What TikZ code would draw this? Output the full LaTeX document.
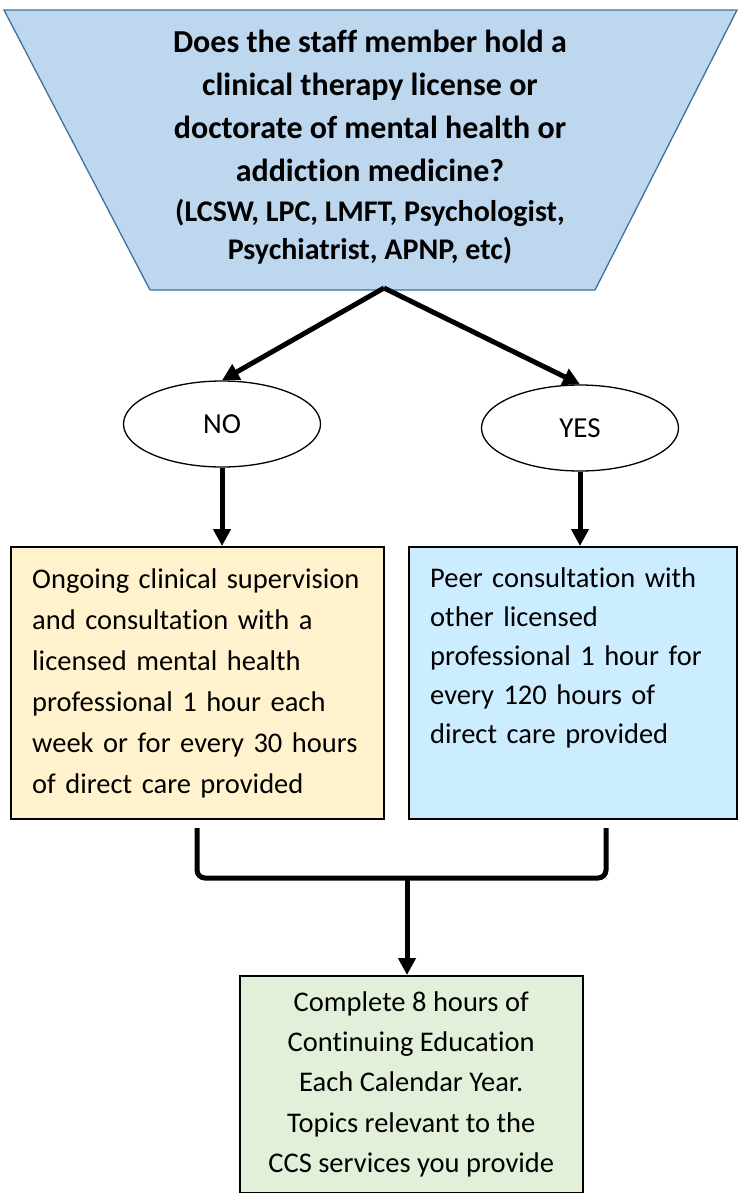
\documentclass[tikz,border=0pt]{standalone}
\usepackage{fontspec}
\setmainfont{Carlito}[Ligatures=NoCommon]
\usetikzlibrary{arrows.meta,shapes.geometric}
\definecolor{qfill}{HTML}{BDD7EE}
\definecolor{qline}{HTML}{41719C}
\definecolor{nofill}{HTML}{FFF2CC}
\definecolor{yesfill}{HTML}{CCECFF}
\definecolor{cefill}{HTML}{E2F0D9}
\begin{document}
\begin{tikzpicture}[x=1bp,y=-1bp,
  bigarrow/.style={line width=5bp,-{Triangle[length=17bp,width=17bp]}},
  answer/.style={ellipse,draw,line width=1.3bp,fill=white,minimum width=197bp,minimum height=86bp,inner sep=0pt,font=\fontsize{29bp}{32bp}\selectfont},
  infobox/.style={draw,line width=1.5bp,inner sep=0pt},
  body/.style={font=\fontsize{28.5bp}{41bp}\selectfont}
]
\useasboundingbox (0,0) rectangle (742,1193);
% question trapezoid
\filldraw[fill=qfill,draw=qline,line width=1.3bp] (4,10) -- (737,10) -- (595,290) -- (150,290) -- cycle;
\coordinate (apex) at (384,288);
\node[anchor=north,align=center,font=\bfseries\fontsize{32bp}{42.8bp}\selectfont] (q) at (370,27)
 {Does the staff member hold a\\
  clinical therapy license or\\
  doctorate of mental health or\\
  addiction medicine?\\[-3bp]
  {\fontsize{30bp}{38bp}\selectfont (LCSW, LPC, LMFT, Psychologist,}\\[-4bp]
  {\fontsize{30bp}{38bp}\selectfont Psychiatrist, APNP, etc)}};
% answers
\node[answer] (no) at (222,424) {NO};
\node[answer] (yes) at (580,428) {YES};
\draw[bigarrow] (apex) -- (no.north);
\draw[bigarrow] (apex) -- (yes.north);
% boxes
\node[infobox,fill=nofill,anchor=north west,minimum width=373bp,minimum height=272bp] (nobox) at (10,546) {};
\node[anchor=north west,text width=350bp,align=left,body,inner sep=0pt] (notext) at (32,569)
 {Ongoing clinical supervision\\
  and consultation with a\\
  licensed mental health\\
  professional 1 hour each\\
  week or for every 30 hours\\
  of direct care provided};
\node[infobox,fill=yesfill,anchor=north west,minimum width=328bp,minimum height=272bp] (yesbox) at (408,546) {};
\node[anchor=north west,text width=300bp,align=left,inner sep=0pt,font=\fontsize{28.5bp}{38.8bp}\selectfont] (yestext) at (430,568)
 {Peer consultation with\\
  other licensed\\
  professional 1 hour for\\
  every 120 hours of\\
  direct care provided};
\draw[bigarrow] (no.south) -- (no.south |- nobox.north);
\draw[bigarrow] (yes.south) -- (yes.south |- yesbox.north);
% bracket
\coordinate (bl) at (197,828);
\coordinate (br) at (606,828);
\coordinate (bm) at (407,878);
\draw[line width=5bp,rounded corners=8bp] (bl) |- (bm) -| (br);
% final box
\node[infobox,fill=cefill,anchor=north west,minimum width=343bp,minimum height=217bp,align=center,font=\fontsize{28.5bp}{40.3bp}\selectfont] (ce) at (239,975)
 {Complete 8 hours of\\
  Continuing Education\\
  Each Calendar Year.\\
  Topics relevant to the\\
  CCS services you provide};
\draw[bigarrow] (bm) -- (bm |- ce.north);
\end{tikzpicture}
\end{document}
